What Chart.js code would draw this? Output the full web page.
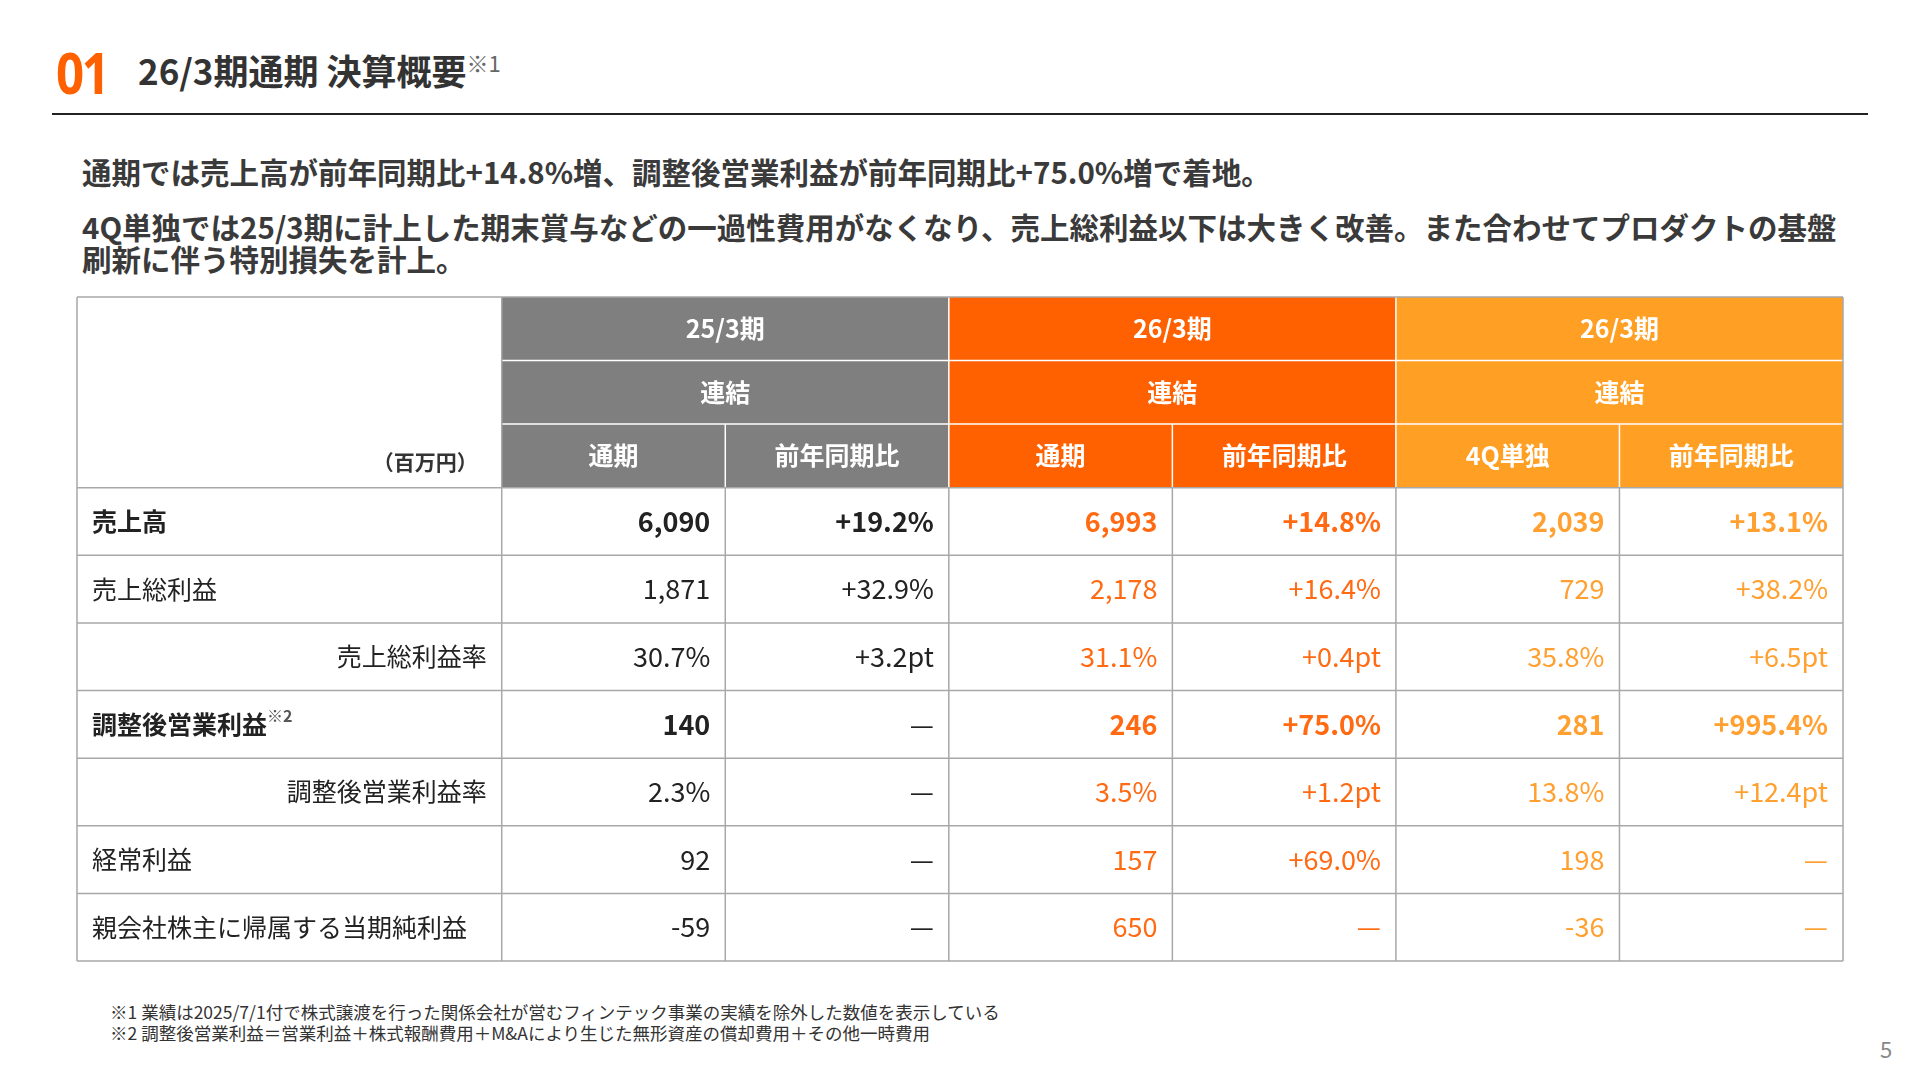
<!DOCTYPE html>
<html><head><meta charset="utf-8">
<script src="https://cdn.jsdelivr.net/npm/chart.js@4"></script>
<style>
body{margin:0;width:1920px;height:1080px;background:#fff;font-family:"Noto Sans CJK JP",sans-serif;color:#333;position:relative;overflow:hidden}
.num{position:absolute;left:56px;top:32px;font-size:58px;font-weight:700;color:#ff6000;font-family:"Noto Sans",sans-serif;letter-spacing:-3px;transform:scaleX(0.85);transform-origin:left}
.ttl{position:absolute;left:138px;top:44px;font-size:35px;font-weight:700;color:#333}
.ttl sup{font-size:22px;color:#666;font-weight:400}
.rule{position:absolute;left:52px;top:113px;width:1816px;height:2px;background:#222}
.p{position:absolute;left:82px;font-size:29.5px;font-weight:700;color:#3a3a3a;line-height:32px;width:1775px}
.fn{position:absolute;left:110px;font-size:17.5px;color:#333}
.pg{position:absolute;left:1880px;top:1032px;font-size:22px;color:#888}
#wrap{position:absolute;left:76px;top:296px;width:1768px;height:666px}
</style></head><body>
<div class="num">01</div>
<div class="ttl">26/3期通期 決算概要<sup>※1</sup></div>
<div class="rule"></div>
<div class="p" style="top:155px">通期では売上高が前年同期比+14.8%増、調整後営業利益が前年同期比+75.0%増で着地。</div>
<div class="p" style="top:210px">4Q単独では25/3期に計上した期末賞与などの一過性費用がなくなり、売上総利益以下は大きく改善。また合わせてプロダクトの基盤刷新に伴う特別損失を計上。</div>
<div id="wrap"><canvas id="c"></canvas></div>
<div class="fn" style="top:999px">※1 業績は2025/7/1付で株式譲渡を行った関係会社が営むフィンテック事業の実績を除外した数値を表示している</div>
<div class="fn" style="top:1020px">※2 調整後営業利益＝営業利益＋株式報酬費用＋M&amp;Aにより生じた無形資産の償却費用＋その他一時費用</div>
<div class="pg">5</div>
<script>
// 行ラベル
const rowLabels = ['売上高','売上総利益','売上総利益率','調整後営業利益','調整後営業利益率','経常利益','親会社株主に帰属する当期純利益']
const periodLabels = ['25/3期','26/3期','26/3期']
const scopeLabels = ['連結','連結','連結']
const colLabels = ['通期','前年同期比','通期','前年同期比','4Q単独','前年同期比']
// 各列の値
const fy25 = ['6,090','1,871','30.7%','140','2.3%','92','-59']
const fy25yoy = ['+19.2%','+32.9%','+3.2pt','—','—','—','—']
const fy26 = ['6,993','2,178','31.1%','246','3.5%','157','650']
const fy26yoy = ['+14.8%','+16.4%','+0.4pt','+75.0%','+1.2pt','+69.0%','—']
const q4 = ['2,039','729','35.8%','281','13.8%','198','-36']
const q4yoy = ['+13.1%','+38.2%','+6.5pt','+995.4%','+12.4pt','—','—']

const columns = [fy25, fy25yoy, fy26, fy26yoy, q4, q4yoy]
const boldRows = [0,3]
const indentRows = [2,4]
const headFill = ['#7f7f7f','#ff6000','#ffa024']
const textCol = ['#222','#ff6a13','#ffa030']
const colEdges = [0,1.9,2.9,3.9,4.9,5.9,6.9,7.9]
// row edges: header rows slightly shorter than body rows
const rowEdges = [0,0.94,1.88,2.82,3.82,4.82,5.82,6.82,7.82,8.82,9.82]

const F = 'Noto Sans CJK JP'
const tablePlugin = {
  id:'table',
  afterDraw(chart){
    const ctx = chart.ctx, xs = chart.scales.x, ys = chart.scales.y
    const X = v => xs.getPixelForValue(v), Y = i => ys.getPixelForValue(rowEdges[i])
    const YM = i => (Y(i)+Y(i+1))/2
    ctx.save()
    for (let g=0; g<3; g++){
      ctx.fillStyle = headFill[g]
      ctx.fillRect(X(colEdges[1+g*2]), Y(0), X(colEdges[3+g*2])-X(colEdges[1+g*2]), Y(3)-Y(0))
    }
    ctx.strokeStyle = '#fff'; ctx.lineWidth = 1.5
    ctx.beginPath()
    for (const r of [1,2]){ ctx.moveTo(X(1.9),Y(r)); ctx.lineTo(X(7.9),Y(r)) }
    for (let i=2;i<7;i++){ const top = (i%2===0)?2:0; ctx.moveTo(X(colEdges[i]),Y(top)); ctx.lineTo(X(colEdges[i]),Y(3)) }
    ctx.stroke()
    ctx.strokeStyle = '#a8a8a8'; ctx.lineWidth = 1.5
    ctx.beginPath()
    for (let r=3;r<=10;r++){ ctx.moveTo(X(0),Y(r)); ctx.lineTo(X(7.9),Y(r)) }
    ctx.moveTo(X(0),Y(0)); ctx.lineTo(X(7.9),Y(0))
    for (let i=0;i<8;i++){ const top = (i===0||i===1||i===7)?0:3; ctx.moveTo(X(colEdges[i]),Y(top)); ctx.lineTo(X(colEdges[i]),Y(10)) }
    ctx.stroke()
    ctx.fillStyle = '#fff'; ctx.textAlign='center'; ctx.textBaseline='middle'
    ctx.font = `700 25px "${F}"`
    for (let g=0; g<3; g++){
      const cx = (X(colEdges[1+g*2])+X(colEdges[3+g*2]))/2
      ctx.fillText(periodLabels[g], cx, YM(0))
      ctx.fillText(scopeLabels[g], cx, YM(1))
    }
    colLabels.forEach((l,i)=>ctx.fillText(l,(X(colEdges[i+1])+X(colEdges[i+2]))/2,YM(2)))
    ctx.fillStyle='#333'; ctx.textAlign='right'; ctx.font = `700 21px "${F}"`
    ctx.fillText('（百万円）', X(1.9)-24, YM(2)+6)
    rowLabels.forEach((l,r)=>{
      const y = YM(3+r), bold = boldRows.includes(r)
      ctx.font = `${bold?700:400} 25px "${F}"`; ctx.fillStyle='#222'
      if (indentRows.includes(r)){ ctx.textAlign='right'; ctx.fillText(l, X(1.9)-15, y) }
      else {
        ctx.textAlign='left'; ctx.fillText(l, X(0)+15, y)
        if (r===3){ const w = ctx.measureText(l).width; ctx.font=`700 16px "${F}"`; ctx.fillStyle='#555'; ctx.fillText('※2', X(0)+15+w, y-8) }
      }
    })
    columns.forEach((col,i)=>{
      col.forEach((v,r)=>{
        const bold = boldRows.includes(r)
        const dash = v==='—'
        ctx.textAlign='right'
        ctx.font = `${bold&&!dash?700:400} 27px "${F}"`
        ctx.fillStyle = textCol[Math.floor(i/2)]
        ctx.fillText(v, X(colEdges[i+2])-15, YM(3+r))
      })
    })
    ctx.restore()
  }
}

const cellPoints = []
columns.forEach((col,i)=>col.forEach((v,r)=>cellPoints.push({x:(colEdges[i+1]+colEdges[i+2])/2, y:(rowEdges[3+r]+rowEdges[4+r])/2})))

new Chart(document.getElementById('c'),{
  type:'scatter',
  data:{datasets:[{data:cellPoints,pointRadius:0,showLine:false}]},
  options:{
    responsive:true, maintainAspectRatio:false, animation:false,
    layout:{padding:1},
    plugins:{legend:{display:false},tooltip:{enabled:false}},
    scales:{
      x:{type:'linear',min:0,max:7.9,display:false},
      y:{type:'linear',min:0,max:9.82,reverse:true,display:false}
    }
  },
  plugins:[tablePlugin]
})
</script>
</body></html>
